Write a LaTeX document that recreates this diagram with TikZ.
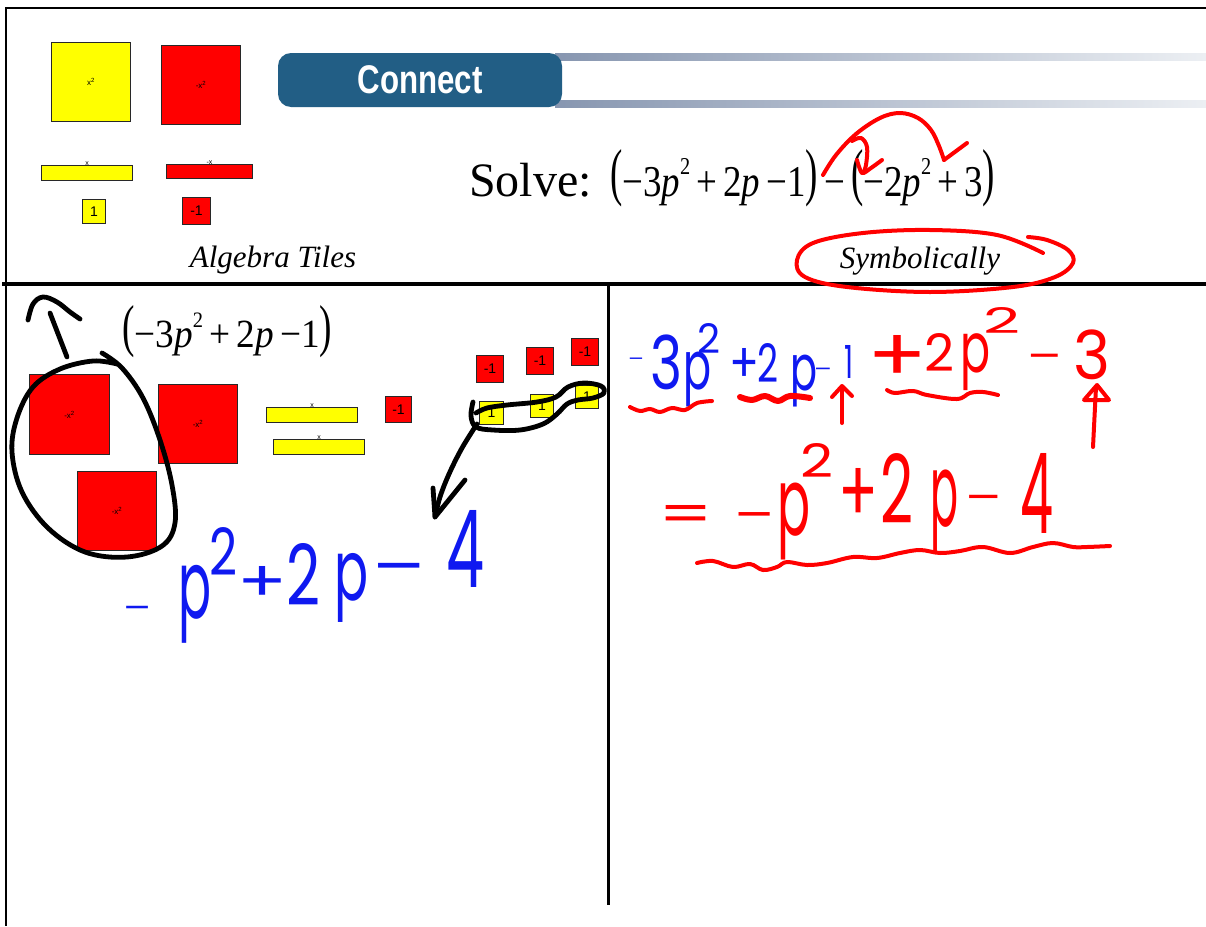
\documentclass[tikz,border=0pt]{standalone}
\usepackage{fontspec}
\usepackage{graphicx}
\setmainfont{Liberation Serif}
\newfontfamily\arialf{Liberation Sans}
\newfontfamily\hwf{Poppins}
\definecolor{tred}{RGB}{255,0,0}
\definecolor{tyel}{RGB}{255,255,0}
\definecolor{tborder}{RGB}{40,40,40}
\definecolor{cblue}{RGB}{34,94,133}
\definecolor{stripL}{RGB}{135,150,176}
\definecolor{stripR}{RGB}{236,239,243}
\definecolor{hwblue}{RGB}{15,25,240}
\definecolor{hwred}{RGB}{255,0,0}
\newcommand\bigpar[1]{\raisebox{0.05em}{\scalebox{1}[1.44]{#1}}}
\newcommand\sqr{\raisebox{0.48em}{\scalebox{0.55}{2}}}
\newcommand\hwtok[7]{\node[hwtok,text=#2] (#1) at (#3,#4) {\resizebox*{#5pt}{#6pt}{\hwf #7}};}
\newcommand\hwdash[5]{\node[hwtok,text=#2] (#1) at (#3,#4) {\scalebox{1}[0.6]{\resizebox{#5pt}{!}{\hwf -}}};}
\newcommand\tile[7]{\node[#2, minimum width=#5pt, minimum height=#6pt, anchor=north west] (#1) at (#3,#4) {#7};}
\tikzset{
  tileR/.style={draw=tborder, fill=tred, line width=1pt, inner sep=0pt, font=\arialf\fontsize{8}{8}\selectfont},
  tileY/.style={draw=tborder, fill=tyel, line width=1pt, inner sep=0pt, font=\arialf\fontsize{8}{8}\selectfont},
  tileRs/.style={tileR, font=\arialf\fontsize{14}{14}\selectfont},
  tileYs/.style={tileY, font=\arialf\fontsize{14}{14}\selectfont},
  lab/.style={inner sep=0pt, font=\arialf\fontsize{7}{7}\selectfont},
  hwtok/.style={inner sep=0pt, anchor=north west},
  inkB/.style={draw=black, line width=4.8pt, line cap=round, line join=round},
  inkR/.style={draw=hwred, line width=4pt, line cap=round, line join=round},
  frame/.style={draw=black, line cap=butt},
}
\begin{document}
\begin{tikzpicture}[x=1pt,y=-1pt]
\useasboundingbox (0,0) rectangle (1206,926);
\fill[white] (0,0) rectangle (1206,926);
% frame
\draw[frame, line width=2.5pt] (5,8) -- (1206,8);
\draw[frame, line width=2.5pt] (6,8) -- (6,926);
\draw[frame, line width=4pt] (2,284) -- (1206,284);
\draw[frame, line width=3pt] (608,284) -- (608,905);
% top-left tiles
\tile{tA}{tileY}{51}{42}{79}{79}{x\textsuperscript{2}}
\tile{tB}{tileR}{161}{45}{79}{79}{-x\textsuperscript{2}}
\tile{tC}{tileY}{41}{165}{91}{15}{}
\node[lab] (tCl) at ([yshift=1pt]tC.north) {x};
\tile{tD}{tileR}{166}{164}{86}{14}{}
\node[lab] (tDl) at ([yshift=1pt]tD.north) {-x};
\tile{tE}{tileYs}{82}{199}{23}{24}{1}
\tile{tF}{tileRs}{182}{197}{28}{27}{-1}
\node[font=\itshape\fontsize{31}{31}\selectfont, anchor=base, inner sep=0pt] (algt) at (273,267) {Algebra Tiles};
% Connect banner
\shade[left color=stripL, right color=stripR] (555,53) rectangle (1206,60);
\shade[left color=stripL, right color=stripR] (555,100) rectangle (1206,107);
\node[fill=cblue, rounded corners=13pt, minimum width=284pt, minimum height=54pt, inner sep=0pt, text=white, font=\arialf\bfseries\fontsize{40}{40}\selectfont] (connect) at (420,80) {\resizebox{125pt}{\height}{Connect}};
% Solve
\node[anchor=base west, inner sep=0pt, font=\fontsize{48}{48}\selectfont] (solve) at (469,196) {Solve:};
\node[anchor=base west, inner sep=0pt, font=\fontsize{44}{50}\selectfont] (expr) at (610,196) {\resizebox{385pt}{\height}{\bigpar{(}−3\textit{p}\sqr\,+\,2\textit{p}\,−1\bigpar{)}\,−\,\bigpar{(}−2\textit{p}\sqr\,+\,3\bigpar{)}}};
\node[font=\itshape\fontsize{31}{31}\selectfont, anchor=base, inner sep=0pt] (symb) at (920,268) {Symbolically};
% red annotations top
\draw[inkR] plot[smooth, tension=0.6] coordinates {(823,175) (836,155) (856,134) (880,118) (900,113) (918,118) (931,130) (939,146) (944,160)};
\draw[inkR] (944,160) -- (967,143);
\draw[inkR] plot[smooth, tension=0.6] coordinates {(852,141) (861,138) (867,147) (866,165) (863,173)};
\draw[inkR] plot[smooth, tension=0.5] coordinates {(857,160) (862,173) (871,168) (882,160)};
\draw[inkR] plot[smooth, tension=0.6] coordinates {(1028,237) (1047,240) (1068,250) (1073,263) (1055,277) (1013,287) (930,292) (847,287) (805,277) (797,260) (813,243) (863,233) (930,230) (997,235) (1043,253)};
% left panel
\node[anchor=base west, inner sep=0pt, font=\fontsize{40}{46}\selectfont] (lexpr) at (122,347) {\resizebox{210pt}{\height}{\bigpar{(}−3\textit{p}\sqr\,+\,2\textit{p}\,−1\bigpar{)}}};
\tile{L1}{tileR}{29}{374}{80}{80}{-x\textsuperscript{2}}
\tile{L2}{tileR}{158}{384}{79}{79}{-x\textsuperscript{2}}
\tile{L3}{tileR}{77}{471}{79}{79}{-x\textsuperscript{2}}
\tile{L4}{tileY}{266}{407}{91}{15}{}
\node[lab] (L4l) at ([yshift=1pt]L4.north) {x};
\tile{L5}{tileY}{273}{439}{91}{15}{}
\node[lab] (L5l) at ([yshift=1pt]L5.north) {x};
\tile{L6}{tileRs}{385}{396}{26}{26}{-1}
\tile{L7}{tileRs}{476}{355}{27}{27}{-1}
\tile{L8}{tileRs}{526}{347}{27}{27}{-1}
\tile{L9}{tileRs}{571}{338}{27}{27}{-1}
\tile{L10}{tileYs}{479}{401}{24}{23}{1}
\tile{L11}{tileYs}{530}{394}{23}{23}{1}
\tile{L12}{tileYs}{575}{385}{23}{23}{1}
% black ink left
\draw[inkB] plot[smooth, tension=0.6] coordinates {(28,320) (33,304) (43,297) (57,302) (70,312) (80,319)};
\draw[inkB] (50,313) -- (67,357);
\draw[inkB] plot[smooth, tension=0.6] coordinates {(102,353) (122,368) (143,398) (160,440) (172,485) (175,523) (162,546) (127,557) (85,552) (48,528) (22,492) (12,452) (17,418) (33,387) (60,369) (93,361) (117,364)};
\draw[inkB] plot[smooth, tension=0.6] coordinates {(473,402) (471,416) (476,427) (493,430) (520,430) (543,424) (557,414) (567,404) (578,400) (593,398) (604,393) (601,386) (584,383) (568,387) (556,397) (537,402) (507,405) (487,408) (476,413)};
\draw[inkB] plot[smooth, tension=0.6] coordinates {(477,424) (462,448) (449,474) (440,497) (435,517)};
\draw[inkB] (433,488) -- (435,517) -- (465,480);
% blue handwriting left
\hwdash{lbm1}{hwblue}{123}{606}{30}
\hwtok{lbp}{hwblue}{178}{565}{33}{78}{p}
\hwtok{lb2s}{hwblue}{209}{527}{28}{48}{2}
\hwtok{lbplus}{hwblue}{237}{566}{50}{35}{+}
\hwtok{lb2}{hwblue}{286}{543}{34}{62}{2}
\hwtok{lbp2}{hwblue}{334}{553}{34}{69}{p}
\hwdash{lbm2}{hwblue}{372}{563}{57}
\hwtok{lb4}{hwblue}{446}{510}{38}{77}{4}
% right panel, blue line
\hwdash{rbm}{hwblue}{628}{358}{17}
\hwtok{rb3}{hwblue}{650}{335}{32}{55}{3}
\hwtok{rbp}{hwblue}{683}{352}{28}{55}{p}
\hwtok{rb2s}{hwblue}{697}{323}{23}{30}{2}
\hwtok{rbplus}{hwblue}{729}{348}{30}{34}{+}
\hwtok{rb2}{hwblue}{757}{343}{21}{39}{2}
\hwtok{rbp2}{hwblue}{790}{355}{27}{52}{p}
\hwdash{rbm2}{hwblue}{814}{368}{19}
\hwtok{rb1}{hwblue}{844}{345}{9}{33}{1}
% right panel, red line 1
\hwtok{rrplus}{hwred}{867}{335}{60}{46}{+}
\hwtok{rr2}{hwred}{924}{333}{30}{38}{2}
\hwtok{rrp}{hwred}{960}{333}{30}{57}{p}
\hwtok{rr2s}{hwred}{983}{307}{37}{26}{2}
\hwdash{rrm}{hwred}{1027}{354}{37}
\hwtok{rr3}{hwred}{1073}{330}{37}{50}{3}
% red underlines and arrows
\draw[inkR] plot[smooth, tension=0.6] coordinates {(630,407) (640,411) (650,409) (660,412) (672,408) (685,410) (697,403) (712,401)};
\draw[inkR, line width=6pt] plot[smooth, tension=0.6] coordinates {(740,397) (752,400) (765,396) (778,401) (790,396) (810,398)};
\draw[inkR] (842,423) -- (842,390);
\draw[inkR] (832,397) -- (842,386) -- (852,396);
\draw[inkR] plot[smooth, tension=0.6] coordinates {(887,390) (895,393) (913,391) (927,395) (957,399) (970,393) (983,392) (998,395)};
\draw[inkR] (1093,447) -- (1096,387);
\draw[inkR] (1084,400) -- (1097,385) -- (1109,400) -- cycle;
% red line 2
\hwtok{req}{hwred}{658}{505}{55}{27}{=}
\hwdash{rm}{hwred}{734}{512}{43}
\hwtok{rp}{hwred}{777}{483}{33}{77}{p}
\hwtok{r2s}{hwred}{800}{443}{33}{34}{2}
\hwtok{rplus}{hwred}{838}{468}{40}{54}{+}
\hwtok{r2}{hwred}{880}{453}{33}{70}{2}
\hwtok{rp2}{hwred}{930}{470}{28}{83}{p}
\hwdash{rm2}{hwred}{965}{495}{39}
\hwtok{r4}{hwred}{1020}{453}{33}{80}{4}
\draw[inkR] plot[smooth, tension=0.6] coordinates {(697,563) (713,561) (733,567) (750,564) (763,570) (777,567) (787,562) (807,565) (827,563) (853,557) (877,558) (900,553) (920,550) (940,553) (960,551) (983,547) (1010,553) (1033,547) (1053,543) (1073,547) (1087,547) (1110,546)};
\end{tikzpicture}
\end{document}
